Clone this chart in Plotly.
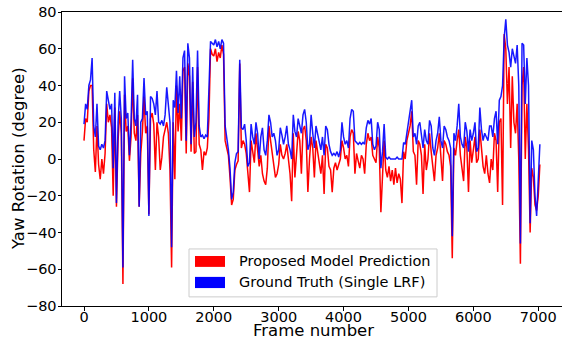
import plotly.graph_objects as go

# Frame index (every 25 frames)
frames = list(range(0, 7050, 25))

# Ground truth yaw (blue)
ground_truth = [
    19, 30, 27, 40, 43, 55, 18, 12, 30, 7, 5, 8, 6, 10, 37, 32, 27, 30, -5, 36,
    -24, 20, 37, 22, -59, 45, 22, 25, 2, 20, 54, 22, 18, 35, -26, 20, 22, 44, 24, 26,
    -31, 34, 33, 30, 24, 37, 20, 19, 21, 18, 24, 39, 30, 20, -48, 32, 28, 48, 25, 45,
    22, 55, 59, 10, 63, 55, 8, 50, 12, 20, 59, 18, 12, 13, 11, 13, 12, 35, 64, 63,
    62, 65, 61, 64, 60, 65, 63, 18, 12, 5, -5, -22, -18, -2, 3, 4, 54, 17, 16, 19,
    10, -4, -2, 19, 12, 8, 20, 14, 0, 12, 17, 5, 2, 10, 24, 20, 12, 14, 10, 2,
    5, 17, 13, 8, 12, 18, 8, 5, 0, 24, 15, 12, 22, 18, 14, 24, 27, 20, 5, 8,
    24, 14, 6, 18, 14, 10, 5, 12, 2, 18, 16, 8, 4, 2, 3, 2, 4, 1, 5, 20,
    12, 8, 10, 6, 22, 27, 26, 10, 9, 8, 9, 8, 9, 8, 17, 21, 19, 22, 8, 5,
    7, 20, 16, -5, 4, 19, 1, 0, 1, 0, 0, 0, 0, 1, 0, 0, 0, 9, 8, 14,
    20, 24, 32, 12, 14, 8, 18, 20, 14, 6, 16, 10, 8, 21, 18, 6, 2, 10, 14, 23,
    10, 6, 18, 16, 12, 10, 6, -42, 14, 10, 18, 30, 12, 8, 6, 20, 15, 4, 16, 10,
    14, 20, 4, 6, 28, 16, 10, 14, 12, 10, 18, 18, 12, 22, 26, 8, 32, 34, 40, 66,
    76, 62, 58, 50, 60, 56, 52, 62, 40, -46, 63, 62, 30, 55, 40, -35, 10, 5, -20, -31,
    -15, 8,
]

# Proposed model prediction (red)
prediction = [
    10, 22, 20, 37, 40, 40, 5, -7, 18, -3, -11, 0, -8, 3, 30, 20, 24, 17, -20, 28,
    -26, 10, 26, 14, -68, 35, 15, 18, -1, 12, 44, 14, 10, 24, -26, 3, 15, 34, 14, 18,
    -30, 22, 25, 19, -6, 20, 12, -6, 1, 12, 16, 20, 14, -6, -59, 20, -11, 40, 15, 30,
    10, 48, 50, 3, 52, 45, 4, 42, 3, 4, 50, 8, 5, -6, 4, 2, 6, 22, 60, 57,
    56, 60, 53, 58, 55, 62, 57, 10, 6, 2, -10, -25, -22, -6, -3, -1, 52, 6, 10, 8,
    3, -10, -18, 10, 3, -2, 14, 5, -4, 2, -8, -12, -14, -5, 18, 10, 4, -4, -10, -8,
    -3, 8, 2, 0, 3, 8, -2, -8, -23, 14, -10, 2, 15, 10, -8, 16, 18, 10, -18, 0,
    12, 6, -10, 10, 4, -2, -8, 2, -19, 8, 6, -4, -6, -18, -5, -2, -6, -3, 0, 10,
    6, 0, 2, -4, 12, 16, 14, -8, 3, -1, -5, 2, 0, -8, 8, 14, 10, 12, 2, 0,
    -2, 12, 6, -29, -8, 10, -6, -10, -4, -12, -6, -14, -5, -13, -8, -11, -24, 4, 0, 10,
    14, 18, 26, 4, 2, -14, 10, 8, 2, -19, 8, -6, 0, 14, 4, -6, -12, 2, 6, 14,
    0, -12, 10, 8, 4, 2, -4, -54, 6, 2, 10, 16, 2, -6, -12, 12, 6, -18, 10, -2,
    4, 12, -2, 0, 16, 6, -4, -8, 2, -8, -13, 0, -6, 14, 10, -18, 20, 22, -25, 68,
    60, 30, 50, 6, 45, 20, 14, 30, 0, -57, 40, 50, 0, 30, 5, -40, -5, -10, -25, -28,
    -20, -3,
]

x_ticks = [0, 1000, 2000, 3000, 4000, 5000, 6000, 7000]
y_ticks = [-80, -60, -40, -20, 0, 20, 40, 60, 80]
legend_labels = ["Proposed Model Prediction", "Ground Truth (Single LRF)"]
colors = ["#ff0000", "#0000ff"]

FONT = "DejaVu Sans"

fig = go.Figure()
fig.add_trace(go.Scatter(x=frames, y=prediction, mode="lines", name=legend_labels[0],
                         line=dict(color=colors[0], width=1.5), showlegend=False))
fig.add_trace(go.Scatter(x=frames, y=ground_truth, mode="lines", name=legend_labels[1],
                         line=dict(color=colors[1], width=1.5), opacity=0.9, showlegend=False))

# Manual legend (matplotlib style patches)
fig.add_shape(type="rect", xref="paper", yref="paper", x0=0.254, x1=0.75, y0=0.031, y1=0.194,
              line=dict(color="#cccccc", width=1), fillcolor="rgba(255,255,255,0.8)", layer="above")
fig.add_shape(type="rect", xref="paper", yref="paper", x0=0.266, x1=0.326, y0=0.133, y1=0.170,
              line=dict(width=0), fillcolor=colors[0], layer="above")
fig.add_shape(type="rect", xref="paper", yref="paper", x0=0.266, x1=0.326, y0=0.061, y1=0.099,
              line=dict(width=0), fillcolor=colors[1], layer="above")
fig.add_annotation(x=0.35, y=0.153, xref="paper", yref="paper", text=legend_labels[0],
                   showarrow=False, xanchor="left", yanchor="middle",
                   font=dict(family=FONT, size=14.5, color="black"))
fig.add_annotation(x=0.35, y=0.082, xref="paper", yref="paper", text=legend_labels[1],
                   showarrow=False, xanchor="left", yanchor="middle",
                   font=dict(family=FONT, size=14.5, color="black"))

# Axis titles
fig.add_annotation(x=-0.088, y=0.5, xref="paper", yref="paper", text="Yaw Rotation (degree)",
                   showarrow=False, textangle=-90, xanchor="center", yanchor="middle",
                   font=dict(family=FONT, size=16.5, color="black"))
fig.add_annotation(x=0.502, y=-0.085, xref="paper", yref="paper", text="Frame number",
                   showarrow=False, xanchor="center", yanchor="middle",
                   font=dict(family=FONT, size=16.5, color="black"))

fig.update_layout(
    width=562, height=339,
    margin=dict(l=62, r=0, t=12, b=33),
    paper_bgcolor="white", plot_bgcolor="white",
    font=dict(family=FONT, size=14.5, color="black"),
    xaxis=dict(range=[-339, 7366], tickvals=x_ticks, ticks="outside", ticklen=3.5,
               tickcolor="black", showline=True, linecolor="black", linewidth=1,
               mirror=True, showgrid=False, zeroline=False, ticklabelstandoff=-6,
               tickfont=dict(family=FONT, size=14.5, color="black")),
    yaxis=dict(range=[-80, 80], tickvals=y_ticks, ticks="outside", ticklen=3.5,
               tickcolor="black", showline=True, linecolor="black", linewidth=1,
               showgrid=False, zeroline=False, ticklabelstandoff=-2,
               tickfont=dict(family=FONT, size=14.5, color="black")),
)

# Remove the browser's default 8px body margin so the figure sits at the page corner.
fig.write_html("out.html", config={"displayModeBar": False},
               post_script="document.body.style.margin='0';")
